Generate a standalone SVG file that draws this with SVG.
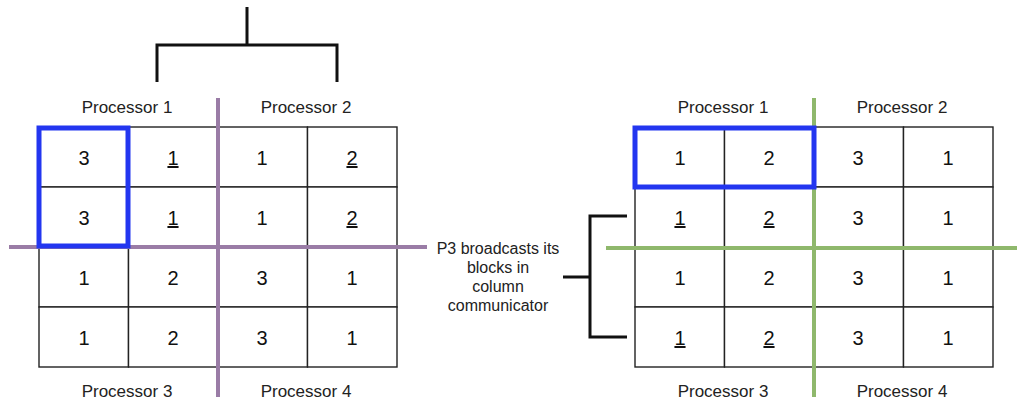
<svg xmlns="http://www.w3.org/2000/svg" width="1017" height="403" viewBox="0 0 1017 403">
  <style>
    .cell { fill: #ffffff; stroke: #222222; stroke-width: 1.4; }
    .num { font-family: "Liberation Sans", Arial, sans-serif; font-size: 20px; fill: #111111; text-anchor: middle; }
    .u { text-decoration: underline; }
    .lbl { font-family: "Liberation Sans", Arial, sans-serif; font-size: 17px; fill: #222222; text-anchor: middle; }
    .note { font-family: "Liberation Sans", Arial, sans-serif; font-size: 16px; fill: #222222; text-anchor: middle; }
    .sel { fill: none; stroke: #2336f0; stroke-width: 5; }
    .purple { stroke: #9a7ca6; stroke-width: 4; fill: none; }
    .green { stroke: #8fb86c; stroke-width: 4; fill: none; }
    .brace { stroke: #111111; stroke-width: 3; fill: none; }
  </style>

  <rect width="1017" height="403" fill="#ffffff"/>

  <!-- Left matrix: blocks before the broadcast -->
  <g id="left-matrix">
    <g id="left-cells">
      <rect class="cell" x="39" y="127" width="89.5" height="60"/>
      <rect class="cell" x="128.5" y="127" width="89.5" height="60"/>
      <rect class="cell" x="218" y="127" width="89.5" height="60"/>
      <rect class="cell" x="307.5" y="127" width="89.5" height="60"/>
      <rect class="cell" x="39" y="187" width="89.5" height="60"/>
      <rect class="cell" x="128.5" y="187" width="89.5" height="60"/>
      <rect class="cell" x="218" y="187" width="89.5" height="60"/>
      <rect class="cell" x="307.5" y="187" width="89.5" height="60"/>
      <rect class="cell" x="39" y="247" width="89.5" height="60"/>
      <rect class="cell" x="128.5" y="247" width="89.5" height="60"/>
      <rect class="cell" x="218" y="247" width="89.5" height="60"/>
      <rect class="cell" x="307.5" y="247" width="89.5" height="60"/>
      <rect class="cell" x="39" y="307" width="89.5" height="60"/>
      <rect class="cell" x="128.5" y="307" width="89.5" height="60"/>
      <rect class="cell" x="218" y="307" width="89.5" height="60"/>
      <rect class="cell" x="307.5" y="307" width="89.5" height="60"/>
    </g>
    <g id="left-values">
      <text class="num" x="84" y="165">3</text>
      <text class="num u" x="173" y="165">1</text>
      <text class="num" x="262" y="165">1</text>
      <text class="num u" x="352" y="165">2</text>
      <text class="num" x="84" y="225">3</text>
      <text class="num u" x="173" y="225">1</text>
      <text class="num" x="262" y="225">1</text>
      <text class="num u" x="352" y="225">2</text>
      <text class="num" x="84" y="285">1</text>
      <text class="num" x="173" y="285">2</text>
      <text class="num" x="262" y="285">3</text>
      <text class="num" x="352" y="285">1</text>
      <text class="num" x="84" y="345">1</text>
      <text class="num" x="173" y="345">2</text>
      <text class="num" x="262" y="345">3</text>
      <text class="num" x="352" y="345">1</text>
    </g>
    <g id="left-dividers">
      <line class="purple" x1="218" y1="98" x2="218" y2="397"/>
      <line class="purple" x1="9" y1="247" x2="427" y2="247"/>
    </g>
    <rect id="left-selection" class="sel" x="39" y="128" width="89" height="118"/>
    <g id="left-labels">
      <text class="lbl" x="127" y="113">Processor 1</text>
      <text class="lbl" x="306" y="113">Processor 2</text>
      <text class="lbl" x="127" y="397">Processor 3</text>
      <text class="lbl" x="306" y="397">Processor 4</text>
    </g>
  </g>

  <!-- Right matrix: blocks after the broadcast -->
  <g id="right-matrix">
    <g id="right-cells">
      <rect class="cell" x="635" y="127" width="89.5" height="60"/>
      <rect class="cell" x="724.5" y="127" width="89.5" height="60"/>
      <rect class="cell" x="814" y="127" width="89.5" height="60"/>
      <rect class="cell" x="903.5" y="127" width="89.5" height="60"/>
      <rect class="cell" x="635" y="187" width="89.5" height="60"/>
      <rect class="cell" x="724.5" y="187" width="89.5" height="60"/>
      <rect class="cell" x="814" y="187" width="89.5" height="60"/>
      <rect class="cell" x="903.5" y="187" width="89.5" height="60"/>
      <rect class="cell" x="635" y="247" width="89.5" height="60"/>
      <rect class="cell" x="724.5" y="247" width="89.5" height="60"/>
      <rect class="cell" x="814" y="247" width="89.5" height="60"/>
      <rect class="cell" x="903.5" y="247" width="89.5" height="60"/>
      <rect class="cell" x="635" y="307" width="89.5" height="60"/>
      <rect class="cell" x="724.5" y="307" width="89.5" height="60"/>
      <rect class="cell" x="814" y="307" width="89.5" height="60"/>
      <rect class="cell" x="903.5" y="307" width="89.5" height="60"/>
    </g>
    <g id="right-values">
      <text class="num" x="680" y="165">1</text>
      <text class="num" x="769" y="165">2</text>
      <text class="num" x="858" y="165">3</text>
      <text class="num" x="948" y="165">1</text>
      <text class="num u" x="680" y="225">1</text>
      <text class="num u" x="769" y="225">2</text>
      <text class="num" x="858" y="225">3</text>
      <text class="num" x="948" y="225">1</text>
      <text class="num" x="680" y="285">1</text>
      <text class="num" x="769" y="285">2</text>
      <text class="num" x="858" y="285">3</text>
      <text class="num" x="948" y="285">1</text>
      <text class="num u" x="680" y="345">1</text>
      <text class="num u" x="769" y="345">2</text>
      <text class="num" x="858" y="345">3</text>
      <text class="num" x="948" y="345">1</text>
    </g>
    <g id="right-dividers">
      <line class="green" x1="814" y1="98" x2="814" y2="397"/>
      <line class="green" x1="606" y1="248" x2="1017" y2="248"/>
    </g>
    <rect id="right-selection" class="sel" x="635" y="128" width="179" height="59"/>
    <g id="right-labels">
      <text class="lbl" x="723" y="113">Processor 1</text>
      <text class="lbl" x="902" y="113">Processor 2</text>
      <text class="lbl" x="723" y="397">Processor 3</text>
      <text class="lbl" x="902" y="397">Processor 4</text>
    </g>
  </g>

  <!-- Caption between the matrices -->
  <g id="broadcast-note">
    <text class="note" x="498" y="254">P3 broadcasts its</text>
    <text class="note" x="498" y="273">blocks in</text>
    <text class="note" x="498" y="292">column</text>
    <text class="note" x="498" y="311">communicator</text>
  </g>

  <!-- Brackets -->
  <g id="connectors">
    <path class="brace" d="M247 7 V45 M157 82 V45 H337 V82"/>
    <path class="brace" d="M627 216 H590 V337 H627 M563 277 H590"/>
  </g>
</svg>
